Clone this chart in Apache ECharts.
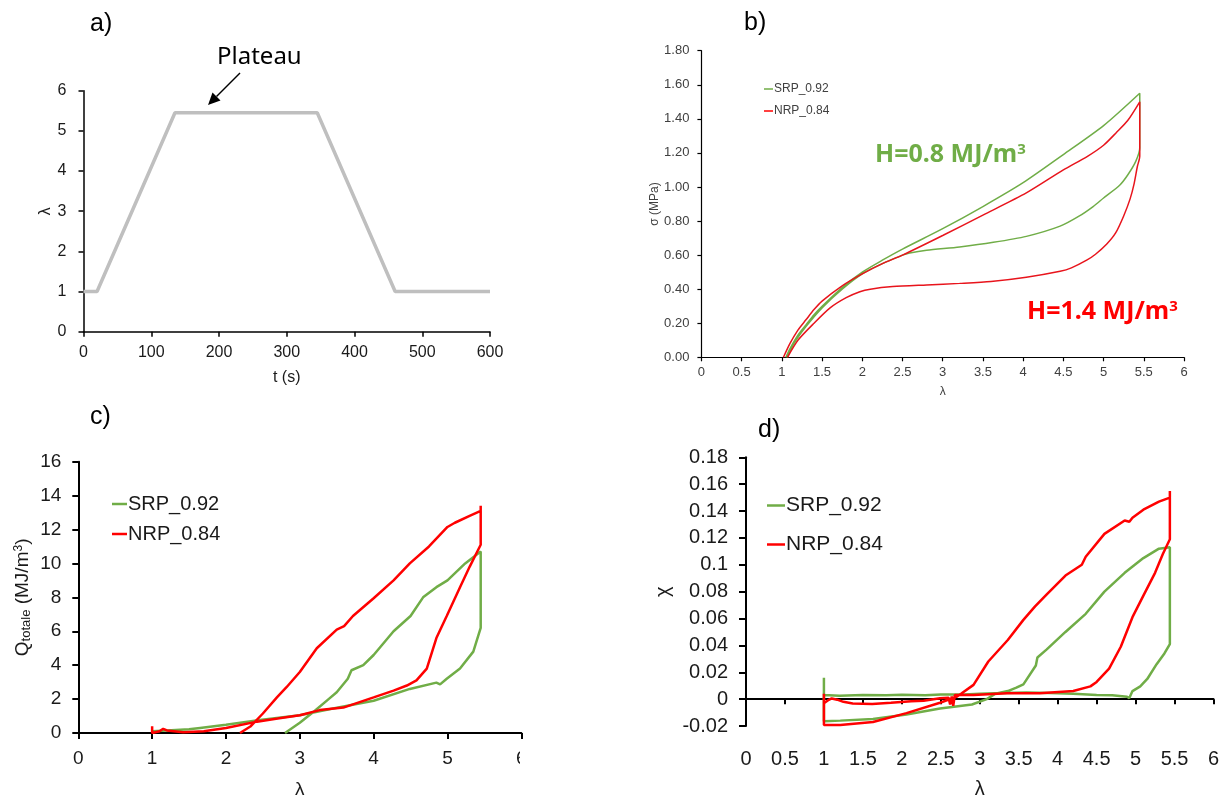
<!DOCTYPE html>
<html><head><meta charset="utf-8">
<script src="https://cdn.jsdelivr.net/npm/echarts@6/dist/echarts.min.js"></script>
<style>html,body{margin:0;padding:0;background:#fff}#c{width:1225px;height:800px}</style>
</head><body><div id="c"></div>
<script>
// ---------- DATA ----------
// a) stretch protocol
const aTime   = [0, 20, 135, 345, 460, 600];
const aLambda = [1, 1, 5.45, 5.45, 1, 1];

// b) stress sigma (MPa) vs lambda: loading, relaxation drop, unloading
const bSrp = [
  [1.05,0],[1.1,0.05],[1.2,0.13],[1.3,0.19],[1.4,0.25],[1.5,0.30],[1.75,0.41],[2.0,0.50],
  [2.25,0.57],[2.5,0.635],[3.0,0.755],[3.5,0.885],[4.0,1.025],[4.5,1.19],[5.0,1.36],[5.45,1.55],
  [5.45,1.23],
  [5.4,1.15],[5.3,1.07],[5.2,1.01],[5.0,0.935],[4.87,0.885],[4.7,0.83],[4.46,0.77],[4.04,0.71],
  [3.63,0.675],[3.21,0.648],[2.8,0.628],[2.59,0.612],[2.5,0.60],[2.25,0.55],[2.0,0.49],
  [1.75,0.40],[1.5,0.29],[1.3,0.18],[1.15,0.08],[1.07,0]
];
const bNrp = [
  [1.02,0],[1.1,0.08],[1.2,0.16],[1.3,0.22],[1.4,0.28],[1.5,0.33],[1.75,0.42],[2.0,0.49],
  [2.25,0.55],[2.5,0.60],[3.0,0.715],[3.5,0.835],[4.04,0.965],[4.5,1.10],[4.8,1.18],[5.0,1.245],
  [5.16,1.32],[5.3,1.39],[5.45,1.50],
  [5.45,1.18],
  [5.42,1.12],[5.38,1.02],[5.33,0.93],[5.25,0.83],[5.15,0.73],[5.04,0.665],[4.9,0.605],
  [4.79,0.57],[4.6,0.525],[4.46,0.505],[4.04,0.47],[3.6,0.445],[3.21,0.434],[2.8,0.425],
  [2.38,0.415],[2.1,0.40],[1.97,0.385],[1.8,0.35],[1.6,0.29],[1.4,0.2],[1.2,0.1],[1.07,0]
];

// c) total heat Q (MJ/m3) vs lambda
const cSrp = [
  [1.0,0.1],[1.2,0.15],[1.5,0.22],[1.65,0.3],[2.0,0.48],[2.46,0.77],[3.0,1.05],[3.45,1.44],
  [4.0,1.9],[4.49,2.6],[4.85,2.97],[4.9,2.87],[4.99,3.2],[5.17,3.8],[5.35,4.8],[5.45,6.2],
  [5.45,10.7],
  [5.24,10.0],[5.0,9.0],[4.85,8.6],[4.67,8.0],[4.5,6.9],[4.27,6.0],[4.0,4.6],[3.86,4.0],
  [3.7,3.7],[3.65,3.2],[3.5,2.4],[3.39,2.0],[3.2,1.3],[3.0,0.6],[2.8,0]
];
const cNrp = [
  [1.0,0.4],[1.0,0.0],[1.1,0.1],[1.15,0.25],[1.2,0.15],[1.42,0.05],[1.7,0.1],[2.0,0.3],
  [2.42,0.67],[2.7,0.85],[3.0,1.05],[3.27,1.35],[3.59,1.5],[4.0,2.1],[4.27,2.5],[4.45,2.8],
  [4.58,3.1],[4.72,3.8],[4.85,5.6],[4.99,6.9],[5.17,8.6],[5.3,9.8],[5.45,11.1],
  [5.45,13.4],[5.45,13.1],
  [5.3,12.8],[5.1,12.4],[5.0,12.15],[4.75,11.0],[4.49,10.0],[4.27,9.0],[4.0,7.95],[3.72,6.9],
  [3.6,6.3],[3.5,6.1],[3.23,5.0],[3.0,3.6],[2.82,2.7],[2.69,2.1],[2.5,1.15],[2.33,0.38],[2.19,0]
];

// d) crystallinity chi vs lambda
const dSrp = [
  [1.0,0.003],[1.2,0.0025],[1.5,0.003],[1.8,0.0028],[2.0,0.0032],[2.3,0.0028],[2.5,0.0035],
  [2.8,0.0035],[3.0,0.004],[3.3,0.0045],[3.6,0.005],[3.9,0.0045],[4.2,0.004],[4.5,0.003],
  [4.7,0.0028],[4.89,0.0018],[4.92,0.0008],[4.96,0.006],[5.06,0.0095],[5.15,0.015],[5.27,0.026],
  [5.37,0.034],[5.44,0.041],
  [5.44,0.113],
  [5.3,0.112],[5.1,0.105],[4.86,0.094],[4.6,0.080],[4.36,0.0635],[4.1,0.050],[3.86,0.037],
  [3.74,0.031],[3.72,0.025],[3.56,0.011],[3.47,0.0085],[3.36,0.006],[3.2,0.004],[3.09,0.0],
  [2.9,-0.004],[2.49,-0.007],[2.06,-0.0115],[1.63,-0.0148],[1.21,-0.016],[1.0,-0.0165],
  [1.0,0.016]
];
const dNrp = [
  [1.0,0.004],[1.0,-0.003],[1.05,-0.001],[1.1,0.0005],[1.17,-0.0004],[1.25,-0.002],[1.37,-0.0033],
  [1.62,-0.0037],[1.86,-0.0027],[2.12,-0.0015],[2.28,-0.0012],[2.49,0.0007],[2.6,0.001],
  [2.62,-0.004],[2.64,0.002],[2.66,-0.005],[2.68,0.003],[2.7,0.003],[2.92,0.003],[3.35,0.0043],
  [3.77,0.0044],[4.2,0.006],[4.42,0.0095],[4.5,0.0128],[4.66,0.0227],[4.81,0.039],[4.96,0.061],
  [5.1,0.077],[5.25,0.094],[5.35,0.108],[5.44,0.119],
  [5.44,0.155],[5.44,0.150],
  [5.3,0.147],[5.1,0.141],[4.96,0.135],[4.92,0.132],[4.86,0.133],[4.6,0.123],[4.36,0.106],
  [4.31,0.1],[4.1,0.092],[3.86,0.078],[3.71,0.069],[3.56,0.059],[3.36,0.044],[3.11,0.028],
  [2.92,0.0106],[2.76,0.004],[2.70,0.0017],[2.49,-0.0027],[2.06,-0.0104],[1.63,-0.017],
  [1.21,-0.0192],[1.0,-0.0192],[1.0,0.004]
];

const seriesNames = ['SRP_0.92', 'NRP_0.84'];
const GREEN = '#70ad47', RED = '#ff0000', GREY = '#bfbfbf';
const FF = 'Liberation Sans';

// ---------- CHART ----------
const chart = echarts.init(document.getElementById('c'), null, {renderer: 'canvas'});

function axisBase(o) {
  return Object.assign({
    type: 'value',
    splitLine: {show: false},
    axisLine: {show: true, onZero: false, lineStyle: {color: '#000', width: o.lw || 1.5}},
    axisTick: {show: true, length: o.tl || 5, lineStyle: {color: '#000', width: o.lw || 1.5}},
    axisLabel: {fontFamily: FF, fontSize: o.fs, color: o.lc || '#1a1a1a', margin: o.margin},
    nameLocation: 'middle',
    nameTextStyle: {fontFamily: FF, fontSize: o.nfs || o.fs, color: o.lc || '#1a1a1a'}
  }, o.extra);
}

const option = {
  animation: false,
  backgroundColor: '#fff',
  grid: [
    {left: 83.5, top: 90.7, width: 406.5, height: 241},
    {left: 701.4, top: 50.7, width: 482.6, height: 306.6},
    {left: 78.3, top: 461.7, width: 443, height: 278.3},
    {left: 746, top: 457.3, width: 467.5, height: 302.2}
  ],
  xAxis: [
    axisBase({fs: 16, margin: 13, extra: {gridIndex: 0, min: 0, max: 600, interval: 100, name: 't (s)', nameGap: 38}}),
    axisBase({fs: 13, lw: 1.2, tl: 4, lc: '#404040', margin: 9, extra: {gridIndex: 1, min: 0, max: 6, interval: 0.5, name: 'λ', nameGap: 28, nameTextStyle: {fontFamily: FF, fontSize: 12, color: '#404040'}}}),
    axisBase({fs: 19, lw: 2, tl: 6, margin: 16, extra: {gridIndex: 2, min: 0, max: 6, interval: 1, name: 'λ', nameGap: 47}}),
    axisBase({fs: 20, lw: 2, tl: 5, margin: 23, extra: {gridIndex: 3, min: 0, max: 6, interval: 0.5, name: 'λ', nameGap: 53}})
  ],
  yAxis: [
    axisBase({fs: 16, margin: 17, extra: {gridIndex: 0, min: 0, max: 6, interval: 1, name: 'λ', nameGap: 30, nameRotate: 90}}),
    axisBase({fs: 13, lw: 1.2, tl: 4, lc: '#404040', margin: 12, extra: {gridIndex: 1, min: 0, max: 1.8, interval: 0.2, name: 'σ (MPa)', nameGap: 41, nameRotate: 90, nameTextStyle: {fontFamily: FF, fontSize: 12, color: '#404040'}}}),
    axisBase({fs: 19, lw: 2, tl: 6, margin: 17, extra: {gridIndex: 2, min: 0, max: 16, interval: 2, name: '{n|Q}{s|totale}{n| (MJ/m}{p|3}{n|)}', nameGap: 45, nameRotate: 90}}),
    axisBase({fs: 20, lw: 2, tl: 7, margin: 18, extra: {gridIndex: 3, min: -0.02, max: 0.18, interval: 0.02, name: 'χ', nameGap: 73, nameRotate: 90}})
  ],
  legend: [
    {left: 764, top: 83, orient: 'vertical', icon: 'rect', itemWidth: 9, itemHeight: 1.5, itemGap: 10, padding: 0,
     selectedMode: false, data: seriesNames, textStyle: {fontFamily: FF, fontSize: 12, color: '#404040', padding: [0,0,0,-4]}},
    {left: 112, top: 494, orient: 'vertical', icon: 'rect', itemWidth: 15, itemHeight: 2.5, itemGap: 10, padding: 0,
     selectedMode: false, data: seriesNames, textStyle: {fontFamily: FF, fontSize: 20, color: '#1a1a1a', padding: [0,0,0,-4]}},
    {left: 767, top: 495, orient: 'vertical', icon: 'rect', itemWidth: 18, itemHeight: 2.5, itemGap: 18, padding: 0,
     selectedMode: false, data: seriesNames, textStyle: {fontFamily: FF, fontSize: 21, color: '#1a1a1a', padding: [0,0,0,-4]}}
  ],
  series: [
    {type: 'line', name: 'protocol', xAxisIndex: 0, yAxisIndex: 0, data: aTime.map((t, i) => [t, aLambda[i]]),
     showSymbol: false, lineStyle: {color: GREY, width: 3.5}, itemStyle: {color: GREY}},
    {type: 'line', name: seriesNames[0], xAxisIndex: 1, yAxisIndex: 1, data: bSrp, showSymbol: false, smooth: 0.25,
     lineStyle: {color: GREEN, width: 1.5}, itemStyle: {color: GREEN}},
    {type: 'line', name: seriesNames[1], xAxisIndex: 1, yAxisIndex: 1, data: bNrp, showSymbol: false, smooth: 0.25,
     lineStyle: {color: '#e8141c', width: 1.5}, itemStyle: {color: RED}},
    {type: 'line', name: seriesNames[0], xAxisIndex: 2, yAxisIndex: 2, data: cSrp, showSymbol: false,
     lineStyle: {color: GREEN, width: 2.5}, itemStyle: {color: GREEN}},
    {type: 'line', name: seriesNames[1], xAxisIndex: 2, yAxisIndex: 2, data: cNrp, showSymbol: false,
     lineStyle: {color: RED, width: 2.5}, itemStyle: {color: RED}},
    {type: 'line', name: seriesNames[0], xAxisIndex: 3, yAxisIndex: 3, data: dSrp, showSymbol: false,
     lineStyle: {color: GREEN, width: 2.5}, itemStyle: {color: GREEN}},
    {type: 'line', name: seriesNames[1], xAxisIndex: 3, yAxisIndex: 3, data: dNrp, showSymbol: false,
     lineStyle: {color: RED, width: 2.5}, itemStyle: {color: RED}}
  ],
  graphic: [
    {type: 'text', left: 90, top: 12, style: {text: 'a)', font: '25px "Liberation Sans"', fill: '#000'}},
    {type: 'text', left: 744, top: 11, style: {text: 'b)', font: '25px "Liberation Sans"', fill: '#000'}},
    {type: 'text', left: 90, top: 405, style: {text: 'c)', font: '25px "Liberation Sans"', fill: '#000'}},
    {type: 'text', left: 758, top: 418, style: {text: 'd)', font: '25px "Liberation Sans"', fill: '#000'}},
    {type: 'text', left: 217, top: 45, style: {text: 'Plateau', font: '24px "Noto Sans"', fill: '#000'}},
    {type: 'line', shape: {x1: 240, y1: 73, x2: 216.5, y2: 96.5}, style: {stroke: '#000', lineWidth: 1.5}},
    {type: 'polygon', shape: {points: [[208, 105], [220.5, 100.5], [212.5, 92.5]]}, style: {fill: '#000'}},
    {type: 'text', left: 875, top: 142, style: {
      text: '{a|H=0.8 MJ/m}{s|3}', rich: {
        a: {font: 'bold 25px "Noto Sans"', fill: GREEN, verticalAlign: 'bottom'},
        s: {font: 'bold 15px "Noto Sans"', fill: GREEN, verticalAlign: 'top'}}}},
    {type: 'text', left: 1027, top: 299, style: {
      text: '{a|H=1.4 MJ/m}{s|3}', rich: {
        a: {font: 'bold 25px "Noto Sans"', fill: RED, verticalAlign: 'bottom'},
        s: {font: 'bold 15px "Noto Sans"', fill: RED, verticalAlign: 'top'}}}},
    {type: 'rect', shape: {x: 520, y: 745, width: 30, height: 45}, style: {fill: '#fff'}, z: 100}
  ]
};
option.yAxis[1].axisLabel.formatter = v => v.toFixed(2);
option.yAxis[3].axisLabel.formatter = v => String(+v.toFixed(2));
option.yAxis[2].nameTextStyle.rich = {
  n: {fontFamily: FF, fontSize: 19, color: '#1a1a1a'},
  s: {fontFamily: FF, fontSize: 13, color: '#1a1a1a', verticalAlign: 'bottom', padding: [8, 0, 0, 0]},
  p: {fontFamily: FF, fontSize: 12, color: '#1a1a1a', verticalAlign: 'top', padding: [0, 0, 8, 0]}
};
option.xAxis[3].axisLine.onZero = true;
chart.setOption(option);
</script>
</body></html>
